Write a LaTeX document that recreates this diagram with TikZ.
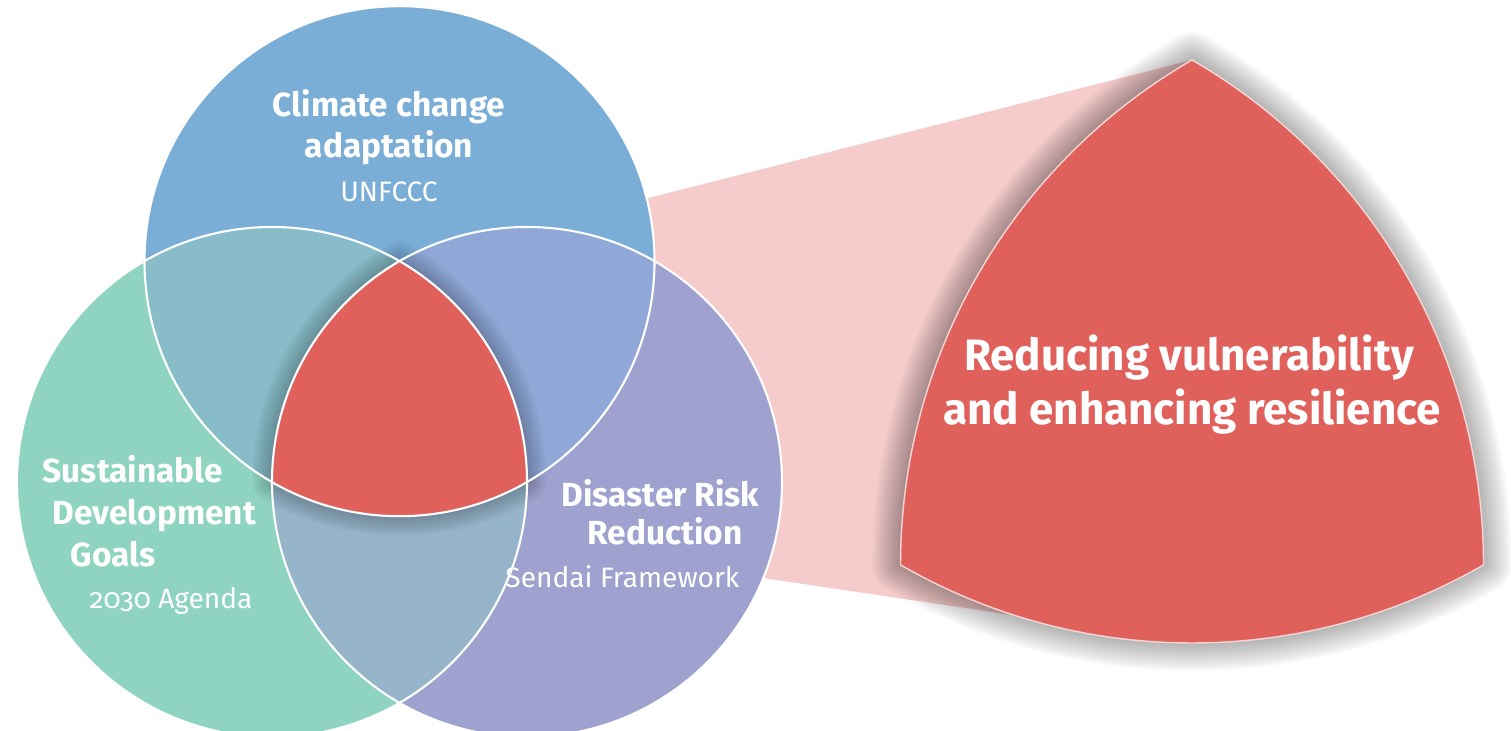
\documentclass[tikz,border=0pt]{standalone}
\usepackage{fontspec}
\setmainfont{Fira Sans}

\definecolor{ccablue}{HTML}{7AAED7}
\definecolor{sdgmint}{HTML}{8FD3C1}
\definecolor{drrlilac}{HTML}{9FA2CE}
\definecolor{ccasdg}{HTML}{88BCC8}
\definecolor{ccadrr}{HTML}{90A8D8}
\definecolor{sdgdrr}{HTML}{97B5CA}
\definecolor{corered}{HTML}{E0605C}
\definecolor{bandpink}{HTML}{F5CBCB}

% the two curved triangles
\newcommand{\bigpath}{(tip) arc[start angle=120, end angle=180, radius=5.83]
    arc[start angle=240, end angle=300, radius=5.83]
    arc[start angle=0, end angle=60, radius=5.83] -- cycle}
\newcommand{\corepath}{(cca) arc[start angle=120, end angle=180, radius=2.55]
    arc[start angle=240, end angle=300, radius=2.55]
    arc[start angle=0, end angle=60, radius=2.55] -- cycle}

\begin{document}
\begin{tikzpicture}[
    ring/.style={draw=white, line width=0.6pt},
    glow/.style={draw=black, line join=round, draw opacity=0.025},
    head/.style={text=white, inner sep=0pt, font=\bfseries\fontsize{9.5}{11}\selectfont},
    sub/.style={text=white, inner sep=0pt, font=\fontsize{8}{10}\selectfont},
    big/.style={text=white, inner sep=0pt, font=\bfseries\fontsize{12.5}{15}\selectfont}]
    \useasboundingbox (0,0) rectangle (15.11,7.31);

    % centres of the three circles and corners of the big shape
    \coordinate (cca) at (3.995,4.698);
    \coordinate (sdg) at (2.72,2.49);
    \coordinate (drr) at (5.27,2.49);
    \coordinate (tip) at (11.92,6.71);
    \coordinate (left) at (9.005,1.66);
    \coordinate (right) at (14.835,1.66);

    % pink band behind everything
    \fill[bandpink] (cca) -- (tip) -- (11.0,1.03) -- (5.27,1.88) -- cycle;

    % big shape with a soft shadow
    \begin{scope}[xshift=0.04cm, yshift=-0.05cm]
        \foreach \w in {0.04,0.08,...,0.6}
            \draw[glow, line width=\w cm] \bigpath;
    \end{scope}
    \fill[corered, draw=white!75!corered, line width=0.4pt] \bigpath;

    % circles and their overlaps
    \fill[ccablue] (cca) circle (2.55);
    \fill[sdgmint] (sdg) circle (2.55);
    \fill[drrlilac] (drr) circle (2.55);
    \begin{scope}
        \clip (cca) circle (2.55);
        \fill[ccasdg] (sdg) circle (2.55);
        \fill[ccadrr] (drr) circle (2.55);
    \end{scope}
    \begin{scope}
        \clip (sdg) circle (2.55);
        \fill[sdgdrr] (drr) circle (2.55);
    \end{scope}
    \begin{scope}
        \clip (cca) circle (2.55) (sdg) circle (2.55) (drr) circle (2.55);
        \foreach \w in {0.04,0.08,...,0.44}
            \draw[glow, line width=\w cm] \corepath;
    \end{scope}
    \fill[corered] \corepath;
    \draw[ring] (cca) circle (2.55);
    \draw[ring] (sdg) circle (2.55);
    \draw[ring] (drr) circle (2.55);

    % labels
    \node[head, anchor=base] (cca1) at (3.89,6.14) {Climate change};
    \node[head, anchor=base] (cca2) at (3.89,5.73) {adaptation};
    \node[sub, anchor=base] (unfccc) at (3.89,5.29) {UNFCCC};

    \node[head, anchor=base west] (sdg1) at (0.42,2.48) {Sustainable};
    \node[head, anchor=base west] (sdg2) at (0.52,2.06) {Development};
    \node[head, anchor=base west] (sdg3) at (0.70,1.64) {Goals};
    \node[sub, anchor=base west] (agenda) at (0.89,1.22) {{\addfontfeatures{Numbers=OldStyle}2030} Agenda};

    \node[head, anchor=base east] (drr1) at (7.60,2.24) {Disaster Risk};
    \node[head, anchor=base east] (drr2) at (7.43,1.86) {Reduction};
    \node[sub, anchor=base east] (sendai) at (7.40,1.43) {Sendai Framework};

    \node[big, anchor=base] (core1) at (11.89,3.60) {Reducing vulnerability};
    \node[big, anchor=base] (core2) at (11.92,3.06) {and enhancing resilience};
\end{tikzpicture}
\end{document}
